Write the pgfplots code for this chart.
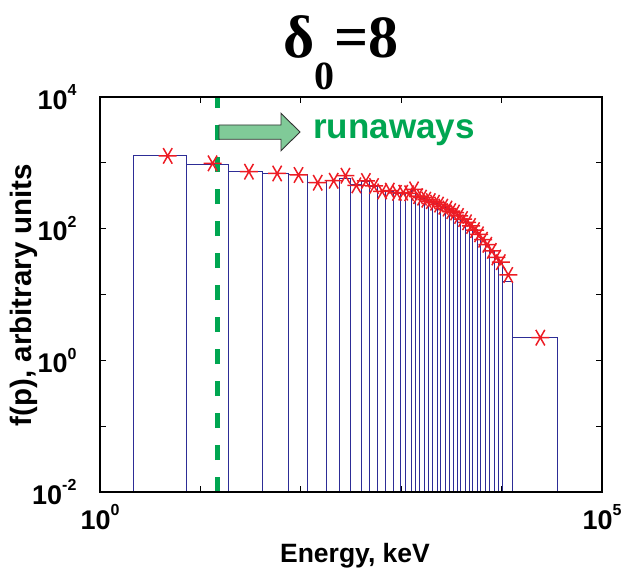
\documentclass[border=0pt]{standalone}
\usepackage{fontspec}
\setmainfont{Liberation Sans}
\newfontfamily\titlefont{Liberation Serif}
\usepackage{pgfplots}
\pgfplotsset{compat=1.18}
\usepackage{pgfplotstable}
\definecolor{barblue}{RGB}{45,45,150}
\definecolor{markred}{RGB}{237,28,36}
\definecolor{rgreen}{RGB}{0,166,81}
\definecolor{arrowfill}{RGB}{128,202,152}
\newcommand{\tl}[1]{10\raisebox{0.5em}{\fontsize{16}{16}\selectfont #1}}

% bin edges (keV) and bar heights; last row closes the final interval
\pgfplotstableread{
x y
2.147 1285
7.304 938
19.14 734
41.74 689
74.57 654
115.3 499
179.5 535
245.7 582
311.2 461
404.3 517
485.7 434
587.3 365
705.7 373
834.3 348
979.5 348
1116 342
1281 386
1404 306
1539 292
1687 273
1870 257
2073 245
2273 229
2491 213
2762 199
3028 181
3281 173
3596 152
3941 136
4320 122
4735 107
5189 95.5
5689 80.2
6234 67.3
6834 56.5
7577 44.7
8402 35.9
9314 30.1
10325 15.5
12987 2.21
35630 2.21
}\bars

% markers at bin centres
\pgfplotstableread{
x y
4.726 1275
13.22 982
30.44 734
58.16 689
94.94 654
147.4 499
212.6 535
278.5 638
357.8 455
445 530
536.5 445
646.5 368
770 378
906.9 350
1048 352
1199 345
1343 395
1472 312
1613 296
1779 276
1972 262
2173 248
2382 232
2627 216
2895 202
3155 185
3439 176
3769 156
4131 140
4528 125
4962 110
5439 95
5962 82
6534 68
7206 57
7990 46
8858 36.5
9820 31
11656 19.8
24309 2.21
}\marks

\begin{document}
\begin{tikzpicture}
\useasboundingbox (-100pt,-82pt) rectangle (524pt,492pt);
\begin{axis}[
  at={(0pt,0pt)}, anchor=south west,
  scale only axis, width=502pt, height=395pt,
  xmode=log, ymode=log,
  xmin=1, xmax=1e5, ymin=1e-2, ymax=1e4,
  log origin y=infty,
  axis on top,
  axis line style={line width=1.3pt},
  tick style={black, line width=1pt},
  major tick length=6pt,
  minor tick length=0pt,
  minor tick style={draw=none},
  tick align=inside,
  xtick={1,10,100,1000,10000,100000},
  xticklabels={\tl{0},,,,,\tl{5}},
  ytick={1e-2,1e-1,1,10,100,1000,1e4},
  yticklabels={\tl{-2},,\tl{0},,\tl{2},,\tl{4}},
  ticklabel style={font=\fontsize{27}{27}\selectfont\bfseries},
  xticklabel style={yshift=-9pt},
  yticklabel style={xshift=-20pt},
  clip=false,
]
\addplot[ybar interval, draw=barblue, fill=none, line width=1pt] table[x=x,y=y] {\bars};
\addplot[only marks, mark=asterisk, mark size=9pt, color=markred,
  mark options={rotate=90, line width=1.5pt}] table[x=x,y=y] {\marks};
\addplot[rgreen, line width=4.5pt, dash pattern=on 15pt off 17pt] coordinates {(14.73,0.01) (14.73,10000)};
\end{axis}
\filldraw[fill=arrowfill, draw=black!80, line width=0.9pt]
  (119pt,367pt) -- (181pt,367pt) -- (181pt,378.7pt) -- (200pt,360pt) -- (181pt,341.3pt) -- (181pt,352.7pt) -- (119pt,352.7pt) -- cycle;
\node[anchor=base west, inner sep=0pt, text=rgreen, font=\fontsize{35}{35}\selectfont\bfseries] at (213pt,353.7pt) {runaways};
\node[anchor=base, inner sep=0pt, font=\fontsize{26.5}{26.5}\selectfont\bfseries] at (255pt,-70pt) {Energy, keV};
\node[anchor=base, rotate=90, inner sep=0pt, font=\fontsize{29.5}{29.5}\selectfont\bfseries] at (-68pt,197pt) {f(p), arbitrary units};
\node[anchor=base west, inner sep=0pt, font=\titlefont\fontsize{60}{60}\selectfont\bfseries] at (183pt,434pt) {δ\raisebox{-32pt}{\fontsize{40}{40}\selectfont 0}=8};
\end{tikzpicture}
\end{document}
